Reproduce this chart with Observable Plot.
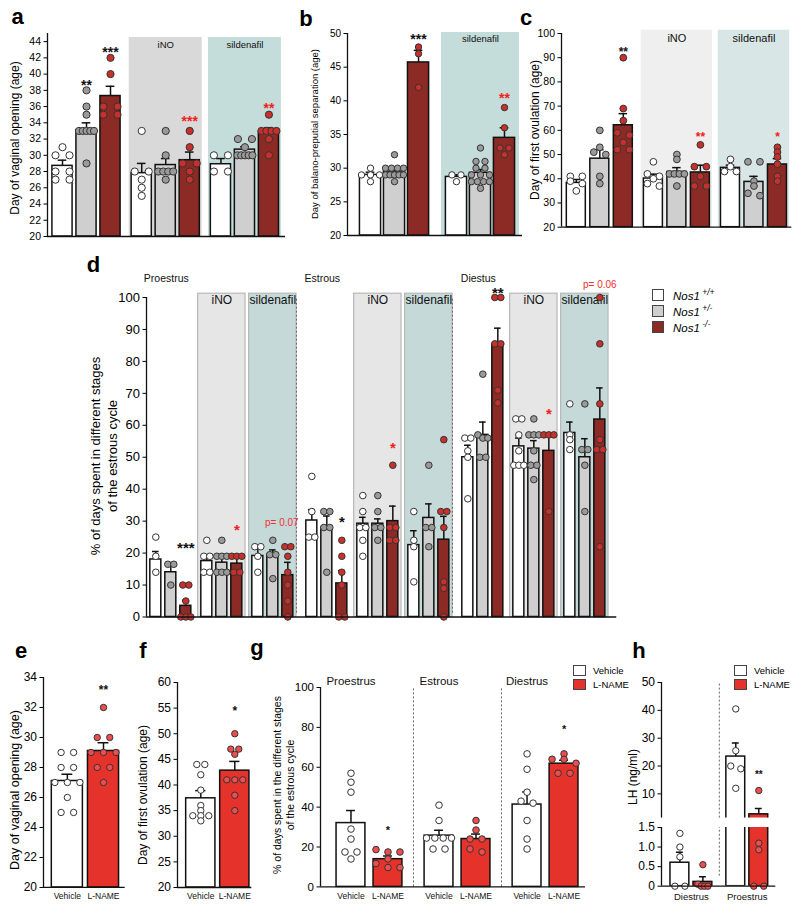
<!DOCTYPE html>
<html>
<head>
<meta charset="utf-8">
<script src="https://cdn.jsdelivr.net/npm/d3@7"></script>
<script src="https://cdn.jsdelivr.net/npm/@observablehq/plot@0.6"></script>
<style>
html,body{margin:0;padding:0;background:#fff;}
#root{position:relative;width:800px;height:911px;overflow:hidden;font-family:"Liberation Sans",Arial,Helvetica,sans-serif;color:#000;}
#root svg{position:absolute;overflow:visible;}
.t{position:absolute;white-space:nowrap;line-height:1;}
.box{position:absolute;box-sizing:border-box;border:1px solid #444;}
</style>
</head>
<body>
<div id="root"></div>
<script>
// ================= DATA =================
const genotypeLabels = ["+/+", "+/-", "-/-"];
const treatA = ["Control", "iNO", "sildenafil"];
const treatB = ["Control", "sildenafil"];
const stagesD = ["Proestrus", "Estrous", "Diestus"];
const treatE = ["Vehicle", "L-NAME"];
const stagesG = ["Proestrus", "Estrous", "Diestrus"];
const stagesH = ["Diestrus", "Proestrus"];

const ticksA = [20, 22, 24, 26, 28, 30, 32, 34, 36, 38, 40, 42, 44];
const ticksB = [20, 25, 30, 35, 40, 45, 50];
const ticksC = [20, 30, 40, 50, 60, 70, 80, 90, 100];
const ticksD = [0, 10, 20, 30, 40, 50, 60, 70, 80, 90, 100];
const ticksE = [20, 22, 24, 26, 28, 30, 32, 34];
const ticksF = [20, 25, 30, 35, 40, 45, 50, 55, 60];
const ticksG = [0, 20, 40, 60, 80, 100];
const ticksHUpper = [10, 20, 30, 40, 50];
const ticksHLower = [0, 0.5, 1, 1.5];

// Panel a: day of vaginal opening (Control, iNO, sildenafil) x (+/+, +/-, -/-)
const aMean = [28.7, 33.1, 37.3, 27.8, 28.8, 29.4, 28.9, 30.7, 32.8];
const aSem = [0.7, 0.9, 1.2, 1.2, 0.8, 1.0, 0.7, 0.35, 0.6];
const aPoints = [
  [31, 30, 30, 28, 28, 27, 27],
  [38, 36, 35, 33, 33, 33, 33, 33, 29],
  [42, 40, 36, 36, 35, 35],
  [33, 28, 28, 27, 26, 25],
  [33, 30, 28, 28, 28, 28, 27],
  [33, 31, 29, 29, 28, 27],
  [30, 30, 28, 28],
  [32, 32, 31, 30, 30, 30, 30, 30],
  [35, 33, 33, 33, 33, 32, 30]
];
const aStars = ["", "**", "***", "", "", "***", "", "", "**"];
const aStarY = [null, 39.1, 43.1, null, null, 34.6, null, null, 36.3];
const aStarVs = ["", "g", "g", "", "", "t", "", "", "t"];

// Panel b: balano-preputial separation (Control, sildenafil)
const bMean = [29.0, 29.5, 45.7, 28.7, 29.3, 34.5];
const bSem = [0.4, 0.3, 1.8, 0.3, 0.5, 1.5];
const bPoints = [
  [30, 29, 29, 29, 28],
  [32, 30, 30, 30, 30, 29, 29, 29, 29, 29, 28],
  [48, 47, 42],
  [29, 29, 28],
  [33, 31, 31, 30, 30, 29, 29, 29, 28, 28, 28, 28, 27],
  [39, 36, 33, 33, 32]
];
const bStars = ["", "", "***", "", "", "**"];
const bStarY = [null, null, 49.7, null, null, 41];
const bStarVs = ["", "", "g", "", "", "t"];

// Panel c: day of first ovulation
const cMean = [38.3, 48.3, 62.1, 40.1, 42.8, 42.6, 44.5, 38.7, 45.9];
const cSem = [1.4, 3.7, 4.8, 1.8, 1.8, 3.0, 1.1, 2.3, 2.4];
const cPoints = [
  [41, 41, 39, 38, 35],
  [60, 53, 51, 50, 41, 38],
  [90, 69, 64, 59, 58, 55, 52, 52],
  [47, 42, 41, 40, 38, 37],
  [50, 48, 42, 42, 42, 42, 37],
  [54, 45, 45, 41, 37, 37],
  [48, 45, 43, 43],
  [47, 47, 39, 37, 34, 33],
  [53, 51, 49, 46, 41, 39]
];
const cStars = ["", "", "**", "", "", "**", "", "", "*"];
const cStarY = [null, null, 93.7, null, null, 58.4, null, null, 58.4];
const cStarVs = ["", "", "g", "", "", "t", "", "", "t"];

// Panel d: % days in stages; (stage) x (Control, iNO, sildenafil) x genotype
const dMean = [18, 14, 3.5, 17.5, 17, 16.7, 19.1, 19.5, 13.1,
               30.2, 27.9, 10.5, 29.2, 29.2, 30, 22.5, 31, 24.2,
               50, 57, 85.4, 53.4, 52.7, 52, 57.6, 50, 61.8];
const dSem = [2.5, 2.5, 1.7, 2, 2, 2.5, 2.5, 1.5, 4,
              3.4, 3.7, 4, 2, 1.5, 4.7, 4.5, 4.4, 7.3,
              3.75, 4, 5, 2.6, 2.5, 5, 3.4, 5.8, 9.9];
const dPoints = [
  [25, 19, 14], [16.5, 16.5, 10], [10, 10, 5, 0, 0, 0],
  [24, 19, 19, 14, 14], [24, 19, 19, 19, 14, 14, 14], [19, 19, 19, 14, 14],
  [22, 22, 19, 14], [24, 19.5, 19.5, 12], [22, 22, 19, 14, 10, 5, 0],
  [44, 33, 25, 25], [33, 33, 28, 28, 14], [24, 19, 14, 10, 0, 0],
  [38, 33, 28, 28, 24, 19], [38, 33, 28, 28, 24], [47.5, 28, 28, 24, 24],
  [33, 24, 22, 11], [47.5, 28, 28, 22], [55.5, 33, 33, 28, 11, 9, 0],
  [56, 56, 52, 50, 37], [76, 57, 56, 56, 50, 50], [100, 100, 85.5, 85.5, 71, 67],
  [62, 62, 57, 52, 47.5, 47.5, 47.5], [62, 57, 57, 57, 52, 47.5, 47.5, 43], [57, 57, 57, 33],
  [66.7, 57, 55.5, 52.4], [66.7, 52.4, 52.4, 47.5, 33], [100, 85.5, 66.7, 55.5, 52.4, 52.4, 22]
];
const dStars = ["", "", "***", "", "", "*", "", "", "",
                "", "", "*", "", "", "*", "", "", "",
                "", "", "**", "", "", "*", "", "", ""];
const dStarY = [null, null, 22.7, null, null, 28.4, null, null, null,
                null, null, 31, null, null, 54.3, null, null, null,
                null, null, 102.7, null, null, 64.7, null, null, null];
const dStarVs = ["", "", "g", "", "", "t", "", "", "",
                 "", "", "g", "", "", "t", "", "", "",
                 "", "", "g", "", "", "t", "", "", ""];
const dNoteText = ["p= 0.07", "p= 0.06"];
const dNoteBar = [8, 26];
const dNoteY = [29.6, 104];

// Panel e: day of vaginal opening, Vehicle vs L-NAME
const eMean = [27.1, 29.1];
const eSem = [0.45, 0.55];
const ePoints = [[29, 29, 28, 28, 27, 27, 27, 26, 25, 25], [32, 30, 30, 29, 29, 29, 28, 28, 27]];
const eStars = ["", "**"];
const eStarY = [null, 33.4];

// Panel f: day of first ovulation
const fMean = [37.4, 42.8];
const fSem = [1.5, 1.8];
const fPoints = [[44, 44, 42, 39, 36, 35, 34, 34, 34, 33], [50, 47, 47, 46, 41, 41, 41, 38, 35]];
const fStars = ["", "*"];
const fStarY = [null, 55];

// Panel g: % of days in stages, (stage) x (Vehicle, L-NAME)
const gMean = [32, 13.9, 25.7, 24, 41.3, 61.8];
const gSem = [6.3, 1.6, 2.7, 2.5, 6.3, 1.7];
const gPoints = [
  [57, 52.5, 47.5, 29, 24, 17.5, 17.5, 14],
  [18.7, 17.5, 17.5, 14, 11.7, 9.7, 9.7],
  [41, 33.3, 24.5, 24.5, 24.5, 24.5, 19, 19],
  [33.3, 28.5, 24, 24, 19, 17.5],
  [66.7, 59, 47.5, 43, 42, 33.3, 24, 19],
  [66.7, 64, 64, 62, 57, 57]
];
const gStars = ["", "*", "", "", "", "*"];
const gStarY = [null, 29.6, null, null, null, 80.7];

// Panel h: LH (ng/ml), (Diestrus, Proestrus) x (Vehicle, L-NAME)
const hMean = [0.6, 0.11, 23.4, 2.65];
const hSem = [0.27, 0.13, 4.9, 2.1];
const hPoints = [[1.35, 1.0, 0.75, 0, 0], [0.55, 0.05, 0, 0, 0], [40.5, 25.5, 20, 19, 12], [11.2, 1.1, 0.93, 0, 0]];
const hStars = ["", "", "", "**"];
const hStarY = [null, null, null, 17.8];

// ================= STYLE / LAYOUT =================
const FONT = '"Liberation Sans", Arial, Helvetica, sans-serif';
const genoFill = ["#ffffff", "#cfcfcf", "#8c2a26"];
const genoDot = ["#ffffff", "#9a9a9a", "#c9302c"];
const treatFill = ["#ffffff", "#e5322b"];
const treatDot = ["#ffffff", "#ec4e4e"];
const starCol = {g: "#111111", t: "#f0201c", "": "#111111"};
const root = document.getElementById("root");

function swarm(vals, pxY, r, spread, spanMax) {
  const order = vals.map((v, i) => i).sort((a, b) => vals[b] - vals[a]);
  const out = vals.map(() => 0);
  const rows = [];
  for (const i of order) {
    const row = rows[rows.length - 1];
    if (row && Math.abs(vals[row[0]] - vals[i]) * pxY < r * 1.3) row.push(i);
    else rows.push([i]);
  }
  for (const row of rows) {
    const n = row.length;
    if (n < 2) continue;
    const s = Math.min(spread, spanMax / (n - 1));
    row.forEach((i, j) => { out[i] = (j - (n - 1) / 2) * s; });
  }
  return out;
}

function makeBars(mean, sem, pts, stars, starY, vs, pos, fill, dot) {
  return mean.map((m, k) => ({
    xu: pos(k), mean: m, sem: sem[k], pts: pts[k],
    fill: fill(k), dotFill: dot(k),
    star: stars[k], starY: starY[k], starColor: starCol[vs ? vs[k] : ""]
  }));
}

function panel(o) {
  const F = o.frame, u = o.u, yd = o.yd;
  const mL = 46, mR = 10, mT = 36, mB = 26;
  const fw = F.x1 - F.x0, fh = F.y1 - F.y0;
  const pxX = fw / (u[1] - u[0]), pxY = fh / (yd[1] - yd[0]);
  const dots = [];
  o.bars.forEach(b => {
    const offs = swarm(b.pts, pxY, o.r, o.spread, o.spanMax);
    b.pts.forEach((v, i) => {
      if (o.dotFilter && !o.dotFilter(v)) return;
      dots.push({x: b.xu + offs[i] / pxX, y: v, fill: b.dotFill});
    });
  });
  const sw = o.sw ?? 1.5;
  const clip = !!o.clip;
  const marks = [];
  if (o.shades) {
    marks.push(Plot.rect(o.shades, {x1: "x1", x2: "x2", y1: yd[0], y2: yd[1], fill: "fill",
      stroke: o.shadeStroke ?? "none", strokeWidth: 1.2, insetTop: o.shadeInset ?? 0}));
    marks.push(Plot.text(o.shades, {x: d => (d.x1 + d.x2) / 2, y: yd[1], text: "label",
      dy: o.shadeLabelDy, fontSize: o.shadeLabelSize, fill: "#111"}));
  }
  if (o.seps) marks.push(Plot.ruleX(o.seps, {x: d => d, y1: yd[0], y2: yd[1], stroke: "#666",
    strokeWidth: 1, strokeDasharray: "2,2", insetTop: o.sepInset ?? 0}));
  const drawBars = o.bars.filter(b => !o.barFilter || o.barFilter(b));
  marks.push(Plot.rect(drawBars, {x1: d => d.xu - o.half, x2: d => d.xu + o.half, y1: o.base ?? yd[0], y2: "mean",
    fill: "fill", stroke: "#111", strokeWidth: sw, clip}));
  marks.push(Plot.ruleX(drawBars, {x: "xu", y1: "mean", y2: d => d.mean + d.sem, stroke: "#111", strokeWidth: sw, clip}));
  marks.push(Plot.ruleY(drawBars, {y: d => d.mean + d.sem, x1: d => d.xu - o.cap, x2: d => d.xu + o.cap,
    stroke: "#111", strokeWidth: sw, clip}));
  marks.push(Plot.dot(dots, {x: "x", y: "y", r: o.r, fill: "fill", stroke: "#333", strokeWidth: 1}));
  const starred = o.bars.filter(b => b.star);
  if (starred.length) marks.push(Plot.text(starred, {x: "xu", y: "starY", text: "star", fill: "starColor",
    fontSize: o.starSize, fontWeight: "bold", dy: o.starSize * 0.28}));
  (o.notes || []).forEach(n => marks.push(Plot.text([n], {x: "x", y: "y", text: "text",
    fill: n.fill || "#111", fontSize: n.size, dx: n.dx || 0, dy: n.dy || 0, fontWeight: n.weight || "normal"})));
  marks.push(Plot.ruleX([u[0]], {stroke: "#111", strokeWidth: 1.3}));
  if (!o.noXAxis) marks.push(Plot.ruleY([yd[0]], {stroke: "#111", strokeWidth: 1.3}));
  const svg = Plot.plot({
    width: fw + mL + mR, height: fh + mT + mB,
    marginLeft: mL, marginRight: mR, marginTop: mT, marginBottom: mB,
    x: {domain: u, axis: null},
    y: {domain: yd, ticks: o.ticks, tickSize: 3.5, tickPadding: 3, label: null,
        tickFormat: o.tickFormat || (d => String(d))},
    color: {type: "identity"},
    style: {fontFamily: FONT, fontSize: o.tickFont + "px", color: "#000", background: "transparent", overflow: "visible"},
    marks
  });
  svg.style.left = (F.x0 - mL) + "px";
  svg.style.top = (F.y0 - mT) + "px";
  root.appendChild(svg);
}

function label(x, y, html, size, opts = {}) {
  const el = document.createElement("div");
  el.className = "t";
  el.innerHTML = html;
  el.style.left = x + "px";
  el.style.top = y + "px";
  el.style.fontSize = size + "px";
  if (opts.bold) el.style.fontWeight = "bold";
  if (opts.color) el.style.color = opts.color;
  const ax = opts.anchor === "start" ? "0" : opts.anchor === "end" ? "-100%" : "-50%";
  el.style.transform = `translate(${ax},-50%)` + (opts.rotate ? ` rotate(${opts.rotate}deg)` : "");
  root.appendChild(el);
}
function box(x, y, w, h, color) {
  const el = document.createElement("div");
  el.className = "box";
  Object.assign(el.style, {left: x + "px", top: y + "px", width: w + "px", height: h + "px", background: color});
  root.appendChild(el);
}

const gi = k => k % 3;
const g2 = k => k % 2;

// ---- Panel a ----
const posA = k => Math.floor(k / 3) * 3.3 + k % 3;
panel({
  frame: {x0: 47, x1: 285, y0: 33, y1: 236}, u: [-0.625, 9.29], yd: [20, 45],
  ticks: ticksA, tickFont: 10.5, r: 3.6, spread: 14, spanMax: 15, half: 0.42, cap: 0.18, starSize: 14,
  bars: makeBars(aMean, aSem, aPoints, aStars, aStarY, aStarVs, posA, k => genoFill[gi(k)], k => genoDot[gi(k)]),
  shades: [1, 2].map(g => ({x1: g * 3.3 + 1 - 1.52, x2: g * 3.3 + 1 + 1.52, fill: g === 1 ? "#d9d9d9" : "#c4ddda", label: treatA[g]})),
  shadeInset: 4, shadeLabelDy: 11, shadeLabelSize: 9.5
});

// ---- Panel b ----
const posB = k => Math.floor(k / 3) * 3.58 + k % 3;
panel({
  frame: {x0: 347, x1: 522, y0: 33, y1: 235}, u: [-0.958, 6.33], yd: [20, 50],
  ticks: ticksB, tickFont: 10, r: 3.2, spread: 9, spanMax: 18, half: 0.44, cap: 0.18, starSize: 14,
  bars: makeBars(bMean, bSem, bPoints, bStars, bStarY, bStarVs, posB, k => genoFill[gi(k)], k => genoDot[gi(k)]),
  shades: [{x1: 3.58 + 1 - 1.625, x2: 3.58 + 1 + 1.625, fill: "#c4dcda", label: treatB[1]}],
  shadeInset: -1, shadeLabelDy: 5, shadeLabelSize: 9.5
});

// ---- Panel c ----
const posC = k => Math.floor(k / 3) * 3.28 + k % 3;
panel({
  frame: {x0: 560.7, x1: 791, y0: 33.3, y1: 227}, u: [-0.63, 9.17], yd: [20, 100],
  ticks: ticksC, tickFont: 10.5, r: 3.4, spread: 12, spanMax: 15, half: 0.404, cap: 0.18, starSize: 12,
  bars: makeBars(cMean, cSem, cPoints, cStars, cStarY, cStarVs, posC, k => genoFill[gi(k)], k => genoDot[gi(k)]),
  shades: [1, 2].map(g => ({x1: g * 3.28 + 1 - 1.52, x2: g * 3.28 + 1 + 1.52, fill: g === 1 ? "#efefef" : "#d8e6e6", label: treatA[g]})),
  shadeInset: -3.3, shadeLabelDy: 4.5, shadeLabelSize: 11
});

// ---- Panel d ----
const posD = k => Math.floor(k / 9) * 10.4 + (Math.floor(k / 3) % 3) * 3.4 + k % 3;
const dShades = [];
[0, 1, 2].forEach(s => [1, 2].forEach(t => {
  const c = s * 10.4 + t * 3.4 + 1;
  dShades.push({x1: c - 1.58, x2: c + 1.58, fill: t === 1 ? "#e6e6e6" : "#c5dad8", label: treatA[t]});
}));
const dNotes = stagesD.map((s, i) => ({x: i * 10.4 + 0.7, y: 100, text: s, dy: -18.5, size: 10.5}))
  .concat(dNoteText.map((t, i) => ({x: posD(dNoteBar[i]), y: dNoteY[i], text: t, size: 10, fill: "#f03030", dx: i === 0 ? -6 : 0})));
panel({
  frame: {x0: 145.7, x1: 616, y0: 296.5, y1: 616}, u: [-0.62, 30.73], yd: [0, 100],
  ticks: ticksD, tickFont: 13, r: 3.3, spread: 6, spanMax: 10, half: 0.367, cap: 0.22, starSize: 15,
  bars: makeBars(dMean, dSem, dPoints, dStars, dStarY, dStarVs, posD, k => genoFill[gi(k)], k => genoDot[gi(k)]),
  shades: dShades, shadeStroke: "#b8b8b8", shadeInset: -3.8, shadeLabelDy: 3, shadeLabelSize: 12,
  seps: [0, 1].map(s => s * 10.4 + 2 * 3.4 + 1 + 1.58), sepInset: -3.8,
  notes: dNotes
});

// ---- Panel e ----
panel({
  frame: {x0: 43.3, x1: 125, y0: 676.7, y1: 886.7}, u: [-0.66, 1.6], yd: [20, 34],
  ticks: ticksE, tickFont: 12, r: 3.2, spread: 12.5, spanMax: 25, half: 0.43, cap: 0.15, starSize: 12,
  bars: makeBars(eMean, eSem, ePoints, eStars, eStarY, null, k => k, k => treatFill[k], k => treatDot[k]),
  notes: treatE.map((t, i) => ({x: i, y: 20, text: t, dy: 9, size: 8.5}))
});

// ---- Panel f ----
panel({
  frame: {x0: 176.7, x1: 251, y0: 681.7, y1: 886.7}, u: [-0.685, 1.5], yd: [20, 60],
  ticks: ticksF, tickFont: 12, r: 3.2, spread: 8, spanMax: 24, half: 0.43, cap: 0.15, starSize: 12,
  bars: makeBars(fMean, fSem, fPoints, fStars, fStarY, null, k => k, k => treatFill[k], k => treatDot[k]),
  notes: treatE.map((t, i) => ({x: i, y: 20, text: t, dy: 9, size: 8.5}))
});

// ---- Panel g ----
const posG = k => Math.floor(k / 2) * 2.38 + k % 2;
panel({
  frame: {x0: 320, x1: 585, y0: 687.3, y1: 886.7}, u: [-0.824, 6.34], yd: [0, 100],
  ticks: ticksG, tickFont: 11.5, r: 3.3, spread: 12, spanMax: 25, half: 0.39, cap: 0.12, starSize: 11,
  bars: makeBars(gMean, gSem, gPoints, gStars, gStarY, null, posG, k => treatFill[g2(k)], k => treatDot[g2(k)]),
  seps: [0, 1].map(s => s * 2.38 + 1.69),
  notes: stagesG.map((s, i) => ({x: i * 2.38, y: 100, text: s, dy: -6.3, size: 11.5}))
    .concat(gMean.map((m, k) => ({x: posG(k), y: 0, text: treatE[g2(k)], dy: 9, size: 8.5})))
});

// ---- Panel h (broken axis: upper and lower parts) ----
const posH = k => Math.floor(k / 2) * 2.43 + k % 2;
const hBars = makeBars(hMean, hSem, hPoints, hStars, hStarY, null, posH, k => treatFill[g2(k)], k => treatDot[g2(k)]);
panel({
  frame: {x0: 660.7, x1: 775, y0: 681.7, y1: 817.3}, u: [-0.8, 4.17], yd: [1.3, 50],
  ticks: ticksHUpper, tickFont: 12, r: 3.2, spread: 12, spanMax: 10, half: 0.41, cap: 0.15, starSize: 10,
  bars: hBars, base: 0, clip: true, noXAxis: true, dotFilter: v => v > 1.5,
  seps: [1.715]
});
panel({
  frame: {x0: 660.7, x1: 775, y0: 827.3, y1: 886}, u: [-0.8, 4.17], yd: [0, 1.5],
  ticks: ticksHLower, tickFont: 12, r: 3.2, spread: 12, spanMax: 10, half: 0.41, cap: 0.15, starSize: 10,
  tickFormat: d => d === 0 ? "0" : d.toFixed(1),
  bars: hBars.map(b => Object.assign({}, b, {star: ""})), base: 0, clip: true, dotFilter: v => v <= 1.5,
  seps: [1.715], sepInset: -10,
  notes: stagesH.map((s, i) => ({x: i * 2.43 + 0.5, y: 0, text: s, dy: 10.5, size: 9.5}))
});

// ================= TEXT: panel letters, axis titles, legends =================
[["a", 17.5, 17], ["b", 306, 18.5], ["c", 526, 17.5], ["d", 93.5, 265],
 ["e", 21, 650.5], ["f", 143, 651], ["g", 257, 647.5], ["h", 639, 650.5]]
  .forEach(([t, x, y]) => label(x, y, t, 22, {bold: true}));

label(15, 138, "Day of vaginal opening (age)", 12, {rotate: -90});
label(315, 134, "Day of balano-preputial separation (age)", 9.5, {rotate: -90});
label(535, 130, "Day of first ovulation (age)", 12, {rotate: -90});
label(95, 456, "% of days spent in different stages", 13, {rotate: -90});
label(112, 456, "of the estrous cycle", 13, {rotate: -90});
label(15, 790, "Day of vaginal opening (age)", 12.5, {rotate: -90});
label(143, 795, "Day of first ovulation (age)", 12, {rotate: -90});
label(277, 785, "% of days spent in the different stages", 10.5, {rotate: -90});
label(290, 785, "of the estrous cycle", 10.5, {rotate: -90});
label(633, 777, "LH (ng/ml)", 12, {rotate: -90});

// legend d
genotypeLabels.forEach((g, i) => {
  box(652, 289 + i * 16, 12, 12, genoFill[i]);
  label(673, 295 + i * 16, `<i>Nos1</i><sup style="font-size:8.5px;font-style:italic;">&nbsp;${g}</sup>`, 11.5, {anchor: "start"});
});
// legends g and h
[573, 734].forEach(x0 => {
  treatE.forEach((t, i) => {
    box(x0, 665 + i * 14, 13, 11, treatFill[i]);
    label(x0 + 20, 670.5 + i * 14, t, 9.5, {anchor: "start"});
  });
});
</script>
</body>
</html>
